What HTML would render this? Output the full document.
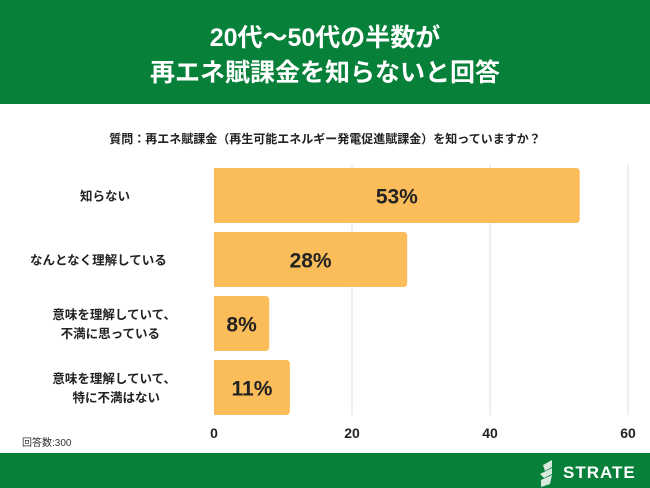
<!DOCTYPE html>
<html><head><meta charset="utf-8"><style>
body{margin:0;width:650px;height:488px;overflow:hidden;background:#fff;font-family:"Liberation Sans","Noto Sans CJK JP",sans-serif;}
.hdr{position:absolute;left:0;top:0;width:650px;height:104px;background:#07803a;color:#fff;text-align:center;font-weight:bold;font-size:25px;line-height:35px;padding-top:21px;box-sizing:border-box;}
.ftr{position:absolute;left:0;top:453px;width:650px;height:35px;background:#07803a;}
svg{position:absolute;left:0;top:0}
</style></head><body>
<div class="hdr">20代〜50代の半数が<br>再エネ賦課金を知らないと回答</div>
<div class="ftr"></div>
<svg id="c" width="650" height="488">
<text x="325" y="143" text-anchor="middle" font-size="12" font-weight="bold" fill="#222">質問：再エネ賦課金（再生可能エネルギー発電促進賦課金）を知っていますか？</text>
<text x="22" y="446" font-size="10" fill="#333">回答数:300</text>
<g>
<path d="M443 465 L452 460 L452 467 L445 471 Z M440 474 L452 468 L452 474 L444 478 Z M441 480 L452 475 L450 484 L441 487Z" fill="#d8e8dc" transform="translate(100,0)"/>
<text x="563" y="478" font-size="17" font-weight="bold" fill="#fff" letter-spacing="1">STRATE</text>
</g>
<g id="g"></g>
</svg>
<script>
const categories=[["知らない"],["なんとなく理解している"],["意味を理解していて、","不満に思っている"],["意味を理解していて、","特に不満はない"]];
const values=[53,28,8,11];
const ticks=[0,20,40,60];
const g=document.getElementById('g');
const NS='http://www.w3.org/2000/svg';
const x0=214,x1=628,xmax=60;
const X=v=>x0+(v/xmax)*(x1-x0);
const Y=i=>168+i*64, bh=55;
function mk(t,a){const e=document.createElementNS(NS,t);for(const k in a)e.setAttribute(k,a[k]);g.appendChild(e);return e;}
ticks.forEach(t=>{
 if(t>0){const l=mk('line',{x1:X(t),x2:X(t),y1:165,y2:415,stroke:'#ddd','stroke-width':1});
 
 }
 const tx=mk('text',{x:X(t),y:438,'text-anchor':'middle','font-size':14,'font-weight':'bold',fill:'#222'});tx.textContent=t;
 
 
});
values.forEach((v,i)=>{
 const y=Y(i),w=X(v)-x0,r=4;
 const p=mk('path',{d:`M${x0} ${y}H${x0+w-r}Q${x0+w} ${y} ${x0+w} ${y+r}V${y+bh-r}Q${x0+w} ${y+bh} ${x0+w-r} ${y+bh}H${x0}Z`,fill:'#fbbc5a'});
 
 
 const t=mk('text',{x:x0+w/2,y:y+bh/2+8,'text-anchor':'middle','font-size':21,'font-weight':'bold',fill:'#222'});t.textContent=v+'%';
 
 
 const lines=categories[i];
 lines.forEach((s,j)=>{
  const cy=y+bh/2+5+(j-(lines.length-1)/2)*19;
  const l=mk('text',{x:lines.length>1&&j==1?160:(lines.length>1?176:(i==0?80:30)),y:cy,'font-size':12.5,'font-weight':'bold',fill:'#222','text-anchor':lines.length>1?'end':'start'});
  l.textContent=s;
  
  
 });
});
</script>
</body></html>
